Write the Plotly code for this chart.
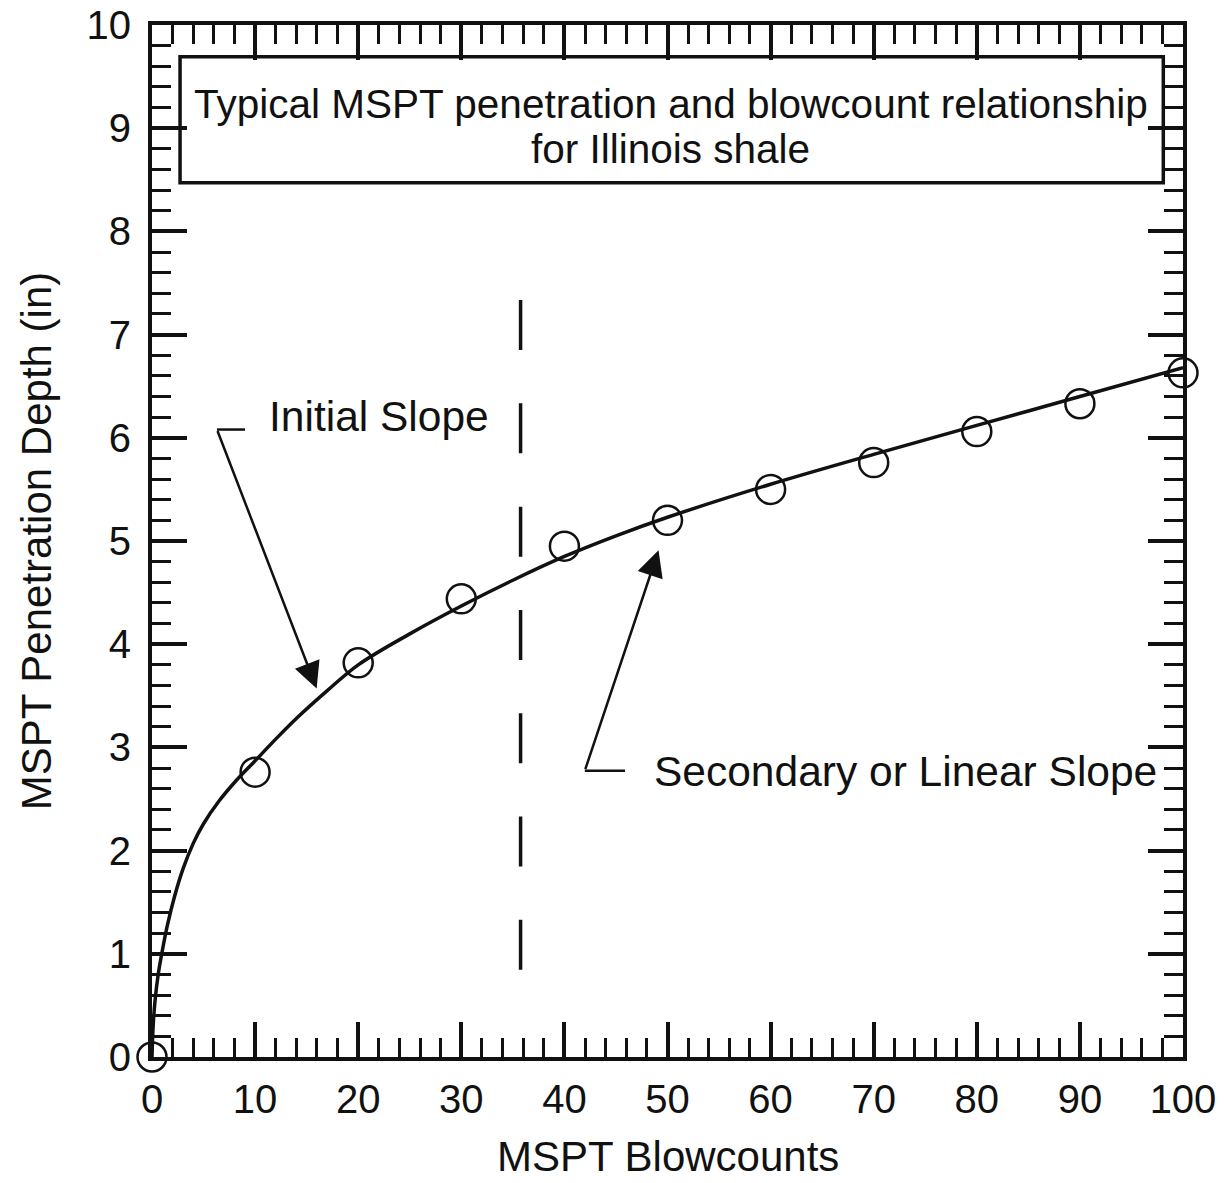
import plotly.graph_objects as go

# ---- data ----
BLOWCOUNTS = [0, 10, 20, 30, 40, 50, 60, 70, 80, 90, 100]
DEPTH = [0.0, 2.76, 3.82, 4.44, 4.95, 5.20, 5.50, 5.76, 6.06, 6.33, 6.63]

FIT_X = [0, 0.1, 0.3, 0.6, 1.0, 1.5, 2.2, 3.0, 4.0, 5.0, 6.5, 8.0, 10, 12, 14,
         17, 20, 25, 30, 35, 40, 45, 50, 60, 70, 80, 90, 100]
FIT_Y = [0.0, 0.28, 0.55, 0.80, 1.03, 1.28, 1.56, 1.82, 2.07, 2.26, 2.48, 2.66,
         2.87, 3.08, 3.28, 3.55, 3.80, 4.10, 4.37, 4.62, 4.85, 5.05, 5.23, 5.55,
         5.84, 6.12, 6.40, 6.68]

DIVIDER_X = [35.75, 35.75]
DIVIDER_Y = [7.335, 0.843]

BOX_X = [2.72, 98.09]
BOX_Y = [8.472, 9.693]
BOX_LINES = ["Typical MSPT penetration and blowcount relationship", "for Illinois shale"]
BOX_LINE_Y = [9.234, 8.798]
BOX_TEXT_X = 50.3

LABELS = ["Initial Slope", "Secondary or Linear Slope"]
LABEL_X = [22.03, 73.05]
LABEL_Y = [6.205, 2.768]

# arrow leaders: stub end, bend (tail), tip
STUB_END_X = [9.02, 45.88]
BEND_X = [6.30, 41.98]
BEND_Y = [6.08, 2.774]
TIP_X = [15.97, 49.13]
TIP_Y = [3.57, 4.91]

X_TICKS = list(range(0, 101, 10))
Y_TICKS = list(range(0, 11, 1))

X_TITLE = "MSPT Blowcounts"
Y_TITLE = "MSPT Penetration Depth (in)"

FONT = "Liberation Sans, Arial, sans-serif"
INK = "#111111"

fig = go.Figure()

fig.add_trace(go.Scatter(
    x=FIT_X, y=FIT_Y, mode="lines",
    line=dict(color=INK, width=3.5, shape="spline", smoothing=1.0),
    cliponaxis=False, hoverinfo="skip", showlegend=False))

fig.add_trace(go.Scatter(
    x=BLOWCOUNTS, y=DEPTH, mode="markers",
    marker=dict(symbol="circle-open", size=29, color=INK, line=dict(width=2.5, color=INK)),
    cliponaxis=False, showlegend=False))

fig.add_trace(go.Scatter(
    x=DIVIDER_X, y=DIVIDER_Y, mode="lines",
    line=dict(color=INK, width=3.5, dash="50px,53.3px"),
    hoverinfo="skip", showlegend=False))

for i in range(len(LABELS)):
    fig.add_trace(go.Scatter(
        x=[BEND_X[i], STUB_END_X[i]], y=[BEND_Y[i], BEND_Y[i]], mode="lines",
        line=dict(color=INK, width=2.5), hoverinfo="skip", showlegend=False))
    fig.add_annotation(
        x=TIP_X[i], y=TIP_Y[i], ax=BEND_X[i], ay=BEND_Y[i],
        xref="x", yref="y", axref="x", ayref="y", text="",
        showarrow=True, arrowhead=2, arrowsize=2.1, arrowwidth=2.5,
        arrowcolor=INK, standoff=0, startstandoff=0)
    fig.add_annotation(
        x=LABEL_X[i], y=LABEL_Y[i], xref="x", yref="y", text=LABELS[i],
        showarrow=False, xanchor="center", yanchor="middle",
        font=dict(family=FONT, size=42.5, color=INK))

fig.add_shape(type="rect", xref="x", yref="y",
              x0=BOX_X[0], x1=BOX_X[1], y0=BOX_Y[0], y1=BOX_Y[1],
              line=dict(color=INK, width=3.5), fillcolor="rgba(0,0,0,0)", layer="above")
for t, yy in zip(BOX_LINES, BOX_LINE_Y):
    fig.add_annotation(x=BOX_TEXT_X, y=yy, xref="x", yref="y", text=t,
                       showarrow=False, xanchor="center", yanchor="middle",
                       font=dict(family=FONT, size=40.5, color=INK))

# x-axis title as a paper-positioned annotation, kept fully inside the page
fig.add_annotation(x=0.5, y=-0.1215, xref="paper", yref="paper", text=X_TITLE,
                   showarrow=False, xanchor="center", yanchor="bottom",
                   font=dict(family=FONT, size=42, color=INK))

axis_common = dict(
    showline=True, linecolor=INK, linewidth=4, mirror="allticks",
    ticks="inside", ticklen=35, tickwidth=3.5, tickcolor=INK,
    showgrid=False, zeroline=False, fixedrange=True,
    tickfont=dict(family=FONT, size=40, color=INK),
    title_font=dict(family=FONT, size=42, color=INK),
)

fig.update_xaxes(
    range=[0, 100], tickmode="array", tickvals=X_TICKS,
    ticktext=[str(v) for v in X_TICKS],
    minor=dict(ticks="inside", dtick=2, ticklen=19, tickwidth=3, tickcolor=INK, showgrid=False),
    ticklabelstandoff=4,
    **axis_common)
fig.update_yaxes(
    range=[0, 10], tickmode="array", tickvals=Y_TICKS,
    ticktext=[str(v) for v in Y_TICKS],
    minor=dict(ticks="inside", dtick=0.2, ticklen=19, tickwidth=3, tickcolor=INK, showgrid=False),
    title_text=Y_TITLE, title_standoff=23, ticklabelstandoff=9,
    **axis_common)

fig.update_layout(
    width=1224, height=1183,
    margin=dict(l=152, r=41, t=25, b=126, autoexpand=False),
    paper_bgcolor="white", plot_bgcolor="white",
    font=dict(family=FONT, color=INK),
    showlegend=False,
)

fig.write_html("out.html")
